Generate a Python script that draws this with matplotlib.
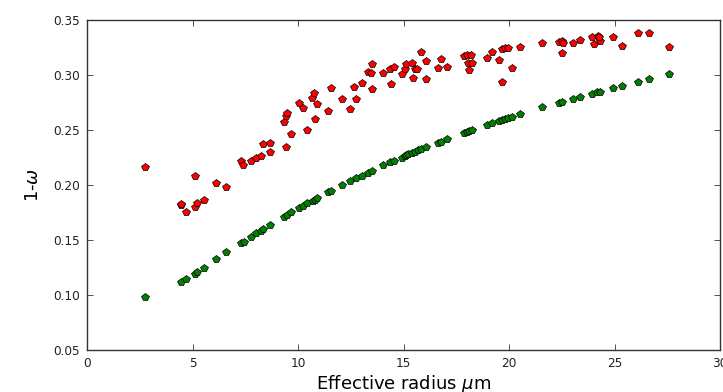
import numpy as np
import matplotlib
matplotlib.use('Agg')
import matplotlib.pyplot as plt

# single scattering co-albedo vs effective radius
r_red = [2.74, 4.47, 4.47, 4.71, 5.11, 5.11, 5.19, 5.53, 6.13, 6.61,
         7.32, 7.40, 7.76, 8.03, 8.27, 8.32, 8.66, 8.66, 9.34, 9.45,
         9.48, 9.45, 9.66, 10.04, 10.24, 10.45, 10.67, 10.75, 10.80, 10.91,
         11.43, 11.56, 12.08, 12.46, 12.65, 12.77, 13.04, 13.32, 13.44, 13.49,
         13.50, 14.04, 14.43, 14.35, 14.56, 14.91, 15.06, 15.14, 15.38, 15.54,
         15.65, 15.46, 15.85, 16.06, 16.09, 16.64, 16.80, 17.04, 17.88, 17.99,
         18.19, 18.07, 18.26, 18.11, 18.94, 19.20, 19.51, 19.65, 19.65, 19.81,
         19.96, 20.12, 20.52, 21.57, 22.38, 22.52, 22.57, 22.49, 23.02, 23.36,
         23.95, 24.04, 24.23, 24.31, 24.28, 24.91, 25.34, 26.13, 26.63, 27.57]
w_red = [0.2167, 0.1818, 0.1824, 0.1758, 0.2085, 0.1797, 0.1840, 0.1864, 0.2015, 0.1985,
         0.2218, 0.2182, 0.2220, 0.2243, 0.2267, 0.2370, 0.2303, 0.2385, 0.2570, 0.2627,
         0.2652, 0.2348, 0.2461, 0.2742, 0.2697, 0.2500, 0.2794, 0.2839, 0.2600, 0.2733,
         0.2673, 0.2885, 0.2779, 0.2691, 0.2894, 0.2782, 0.2930, 0.3030, 0.3021, 0.3100,
         0.2870, 0.3021, 0.2918, 0.3052, 0.3070, 0.3006, 0.3052, 0.3097, 0.3106, 0.3052,
         0.3058, 0.2970, 0.3206, 0.3130, 0.2964, 0.3061, 0.3145, 0.3070, 0.3176, 0.3182,
         0.3182, 0.3112, 0.3112, 0.3045, 0.3152, 0.3206, 0.3136, 0.3236, 0.2933, 0.3242,
         0.3248, 0.3061, 0.3258, 0.3288, 0.3297, 0.3309, 0.3288, 0.3197, 0.3294, 0.3318,
         0.3348, 0.3279, 0.3355, 0.3309, 0.3342, 0.3348, 0.3267, 0.3385, 0.3379, 0.3252]

r_green = [2.74, 4.47, 4.71, 5.11, 5.22, 5.53, 6.13, 6.61, 7.32, 7.43,
           7.76, 8.03, 8.27, 8.32, 8.66, 9.34, 9.48, 9.66, 10.04, 10.24,
           10.45, 10.72, 10.80, 10.91, 11.43, 11.56, 12.08, 12.46, 12.77, 13.04,
           13.32, 13.49, 14.04, 14.35, 14.56, 14.91, 15.06, 15.14, 15.22, 15.38,
           15.54, 15.69, 15.85, 16.06, 16.64, 16.80, 17.04, 17.88, 17.99, 18.11,
           18.26, 18.94, 19.20, 19.51, 19.65, 19.81, 19.96, 20.12, 20.52, 21.57,
           22.38, 22.52, 23.02, 23.36, 23.95, 24.15, 24.31, 24.91, 25.34, 26.13,
           26.63, 27.57]
w_green = [0.0979, 0.1115, 0.1145, 0.1191, 0.1206, 0.1248, 0.1327, 0.1388, 0.1473, 0.1485,
           0.1530, 0.1561, 0.1585, 0.1597, 0.1636, 0.1712, 0.1727, 0.1752, 0.1794, 0.1812,
           0.1833, 0.1855, 0.1864, 0.1879, 0.1933, 0.1945, 0.2000, 0.2033, 0.2067, 0.2085,
           0.2112, 0.2127, 0.2179, 0.2206, 0.2218, 0.2248, 0.2267, 0.2273, 0.2282, 0.2288,
           0.2303, 0.2318, 0.2327, 0.2348, 0.2385, 0.2394, 0.2415, 0.2470, 0.2479, 0.2488,
           0.2500, 0.2542, 0.2561, 0.2582, 0.2591, 0.2600, 0.2612, 0.2621, 0.2643, 0.2706,
           0.2742, 0.2755, 0.2782, 0.2803, 0.2830, 0.2842, 0.2848, 0.2879, 0.2900, 0.2936,
           0.2961, 0.3006]

fig = plt.figure(figsize=(7.23, 3.92), dpi=100)
ax = fig.add_axes([87/723., 42/392., 633/723., 330/392.])

ax.plot(r_red, w_red, ls='None', marker='p', ms=5.5, mfc='red', mec='k', mew=0.5)
ax.plot(r_green, w_green, ls='None', marker='p', ms=5.5, mfc=(0, 0.5, 0), mec='k', mew=0.5)

ax.set_xlim(0, 30)
ax.set_ylim(0.05, 0.35)
ax.set_xticks(np.arange(0, 31, 5))
ax.set_yticks(np.arange(0.05, 0.351, 0.05))
ax.yaxis.set_major_formatter(matplotlib.ticker.FormatStrFormatter('%.2f'))
ax.tick_params(direction='in', top=True, right=True, length=4, width=0.6,
               labelsize=8.7, pad=5, colors='#333333', labelcolor='#222222')
for s in ax.spines.values():
    s.set_linewidth(1.0)
    s.set_color('#333333')

ax.set_xlabel(r'Effective radius $\mu$m', fontsize=13, labelpad=2)
ax.set_ylabel(r'1-$\omega$', fontsize=13, labelpad=8)

fig.savefig('out.png', dpi=100)
